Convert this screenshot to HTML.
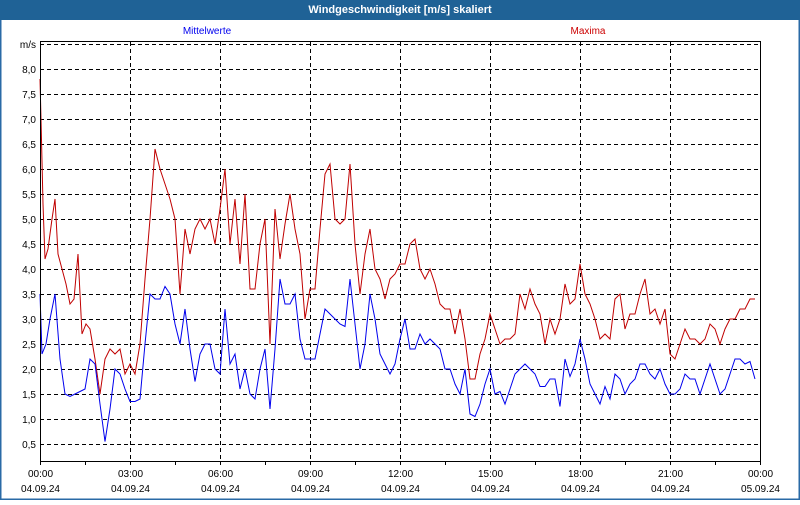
<!DOCTYPE html>
<html><head><meta charset="utf-8"><style>
body{margin:0;width:800px;height:500px;overflow:hidden;background:#fff;font-family:"Liberation Sans",sans-serif;}
</style></head><body>
<svg width="800" height="500" xmlns="http://www.w3.org/2000/svg" font-family="Liberation Sans, sans-serif">
<rect x="0" y="0" width="800" height="500" fill="#fff"/>
<rect x="0.5" y="0.5" width="799" height="499" fill="none" stroke="#2a6aa6" stroke-width="2"/>
<rect x="0" y="0" width="800" height="20" fill="#1f6296"/>
<text x="400" y="13" text-anchor="middle" fill="#fff" font-size="11" font-weight="bold">Windgeschwindigkeit [m/s] skaliert</text>
<text x="207" y="34" text-anchor="middle" fill="#0000ee" font-size="10">Mittelwerte</text>
<text x="588" y="34" text-anchor="middle" fill="#cc0000" font-size="10">Maxima</text>
<g id="grid" stroke="#000" stroke-dasharray="4,3" stroke-width="1"></g>
<g id="lbl" font-size="10" fill="#000"></g>
<polyline id="red" fill="none" stroke="#c00000" stroke-width="1"/>
<polyline id="blue" fill="none" stroke="#0000ee" stroke-width="1"/>
<rect x="40.5" y="41.5" width="720" height="420" fill="none" stroke="#000"/>
</svg>
<script>
var ns="http://www.w3.org/2000/svg";
function el(t,a,p){var e=document.createElementNS(ns,t);for(var k in a)e.setAttribute(k,a[k]);p.appendChild(e);return e;}
var g=document.getElementById('grid'),l=document.getElementById('lbl');
function Y(v){return 469-50*v;}
for(var i=1;i<=17;i++){var v=i*0.5,y=Y(v)+0.5;el('line',{x1:40,x2:760,y1:y,y2:y},g);
 if(i<17){var t=el('text',{x:36,y:Y(v)+4,'text-anchor':'end'},l);t.textContent=v.toFixed(1).replace('.',',');}}
var t=el('text',{x:36,y:48,'text-anchor':'end'},l);t.textContent='m/s';
for(var h=0;h<=8;h++){var x=40+h*90+0.5;if(h>0&&h<8)el('line',{x1:x,x2:x,y1:42,y2:461},g);
 var a=el('text',{x:x,y:477,'text-anchor':'middle'},l);a.textContent=('0'+(h*3%24)).slice(-2)+':00';
 var b=el('text',{x:x,y:492,'text-anchor':'middle'},l);b.textContent=h<8?'04.09.24':'05.09.24';}
for(var k=0;k<=16;k++){var x=40+k*45+0.5;el('line',{x1:x,x2:x,y1:461,y2:465,stroke:'#000'},l.parentNode);}
var R=[[40,7.8],[41,7.0],[43,5.3],[45,4.2],[48,4.4],[52,5.0],[55,5.4],[58,4.3],[62,4.0],[66,3.7],[70,3.3],[74,3.4],[78,4.3],[82,2.7],[86,2.9],[90,2.8],[95,2.2],[100,1.5],[105,2.2],[110,2.4],[115,2.3],[120,2.4],[125,1.9],[130,2.1],[135,1.9],[140,2.5],[145,3.8],[150,5.0],[155,6.4],[160,6.0],[165,5.7],[170,5.4],[175,5.0],[180,3.5],[185,4.8],[190,4.3],[195,4.8],[200,5.0],[205,4.8],[210,5.0],[215,4.5],[220,5.2],[225,6.0],[230,4.5],[235,5.4],[240,4.1],[245,5.5],[250,3.6],[255,3.6],[260,4.5],[265,5.0],[270,2.5],[275,5.2],[280,4.2],[285,4.9],[290,5.5],[295,4.8],[300,4.3],[305,3.0],[310,3.6],[315,3.6],[320,4.8],[325,5.9],[330,6.1],[335,5.0],[340,4.9],[345,5.0],[350,6.1],[355,4.5],[360,3.5],[365,4.3],[370,4.8],[375,4.0],[380,3.8],[385,3.4],[390,3.8],[395,3.9],[400,4.1],[405,4.1],[410,4.5],[415,4.6],[420,4.0],[425,3.8],[430,4.0],[435,3.7],[440,3.3],[445,3.2],[450,3.2],[455,2.7],[460,3.2],[465,2.6],[470,1.8],[475,1.8],[480,2.3],[485,2.6],[490,3.1],[495,2.8],[500,2.5],[505,2.6],[510,2.6],[515,2.7],[520,3.5],[525,3.2],[530,3.6],[535,3.3],[540,3.1],[545,2.5],[550,3.0],[555,2.7],[560,3.0],[565,3.7],[570,3.3],[575,3.4],[580,4.1],[585,3.5],[590,3.3],[595,3.0],[600,2.6],[605,2.7],[610,2.6],[615,3.4],[620,3.5],[625,2.8],[630,3.1],[635,3.1],[640,3.5],[645,3.8],[650,3.1],[655,3.2],[660,2.9],[665,3.2],[670,2.3],[675,2.2],[680,2.5],[685,2.8],[690,2.6],[695,2.6],[700,2.5],[705,2.6],[710,2.9],[715,2.8],[720,2.5],[725,2.8],[730,3.0],[735,3.0],[740,3.2],[745,3.2],[750,3.4],[755,3.4]];
var B=[[40,3.5],[42,2.3],[46,2.5],[50,3.0],[55,3.5],[60,2.2],[65,1.5],[70,1.45],[75,1.5],[80,1.55],[85,1.6],[90,2.2],[95,2.1],[100,1.3],[105,0.55],[110,1.2],[115,2.0],[120,1.9],[125,1.6],[130,1.35],[135,1.35],[140,1.4],[145,2.5],[150,3.5],[155,3.4],[160,3.4],[165,3.65],[170,3.5],[175,2.9],[180,2.5],[185,3.2],[190,2.4],[195,1.75],[200,2.3],[205,2.5],[210,2.5],[215,2.0],[220,1.9],[225,3.2],[230,2.1],[235,2.3],[240,1.6],[245,2.0],[250,1.5],[255,1.4],[260,2.0],[265,2.4],[270,1.2],[275,2.4],[280,3.8],[285,3.3],[290,3.3],[295,3.5],[300,2.6],[305,2.2],[310,2.2],[315,2.2],[320,2.7],[325,3.2],[330,3.1],[335,3.0],[340,2.9],[345,2.85],[350,3.8],[355,2.9],[360,2.0],[365,2.5],[370,3.5],[375,3.0],[380,2.3],[385,2.1],[390,1.9],[395,2.1],[400,2.6],[405,3.0],[410,2.4],[415,2.4],[420,2.7],[425,2.5],[430,2.6],[435,2.5],[440,2.4],[445,2.0],[450,2.0],[455,1.7],[460,1.5],[465,2.0],[470,1.1],[475,1.05],[480,1.3],[485,1.7],[490,2.0],[495,1.5],[500,1.55],[505,1.3],[510,1.6],[515,1.9],[520,2.0],[525,2.1],[530,2.0],[535,1.9],[540,1.65],[545,1.65],[550,1.8],[555,1.8],[560,1.25],[565,2.2],[570,1.85],[575,2.1],[580,2.6],[585,2.2],[590,1.7],[595,1.5],[600,1.3],[605,1.65],[610,1.4],[615,1.9],[620,1.8],[625,1.5],[630,1.7],[635,1.8],[640,2.1],[645,2.1],[650,1.9],[655,1.8],[660,2.0],[665,1.7],[670,1.5],[675,1.5],[680,1.6],[685,1.9],[690,1.8],[695,1.8],[700,1.5],[705,1.8],[710,2.1],[715,1.8],[720,1.5],[725,1.6],[730,1.9],[735,2.2],[740,2.2],[745,2.1],[750,2.15],[755,1.8]];
function pts(a){return a.map(function(p){return p[0]+','+Y(p[1]).toFixed(1);}).join(' ');}
document.getElementById('red').setAttribute('points',pts(R));
document.getElementById('blue').setAttribute('points',pts(B));
</script>
</body></html>
